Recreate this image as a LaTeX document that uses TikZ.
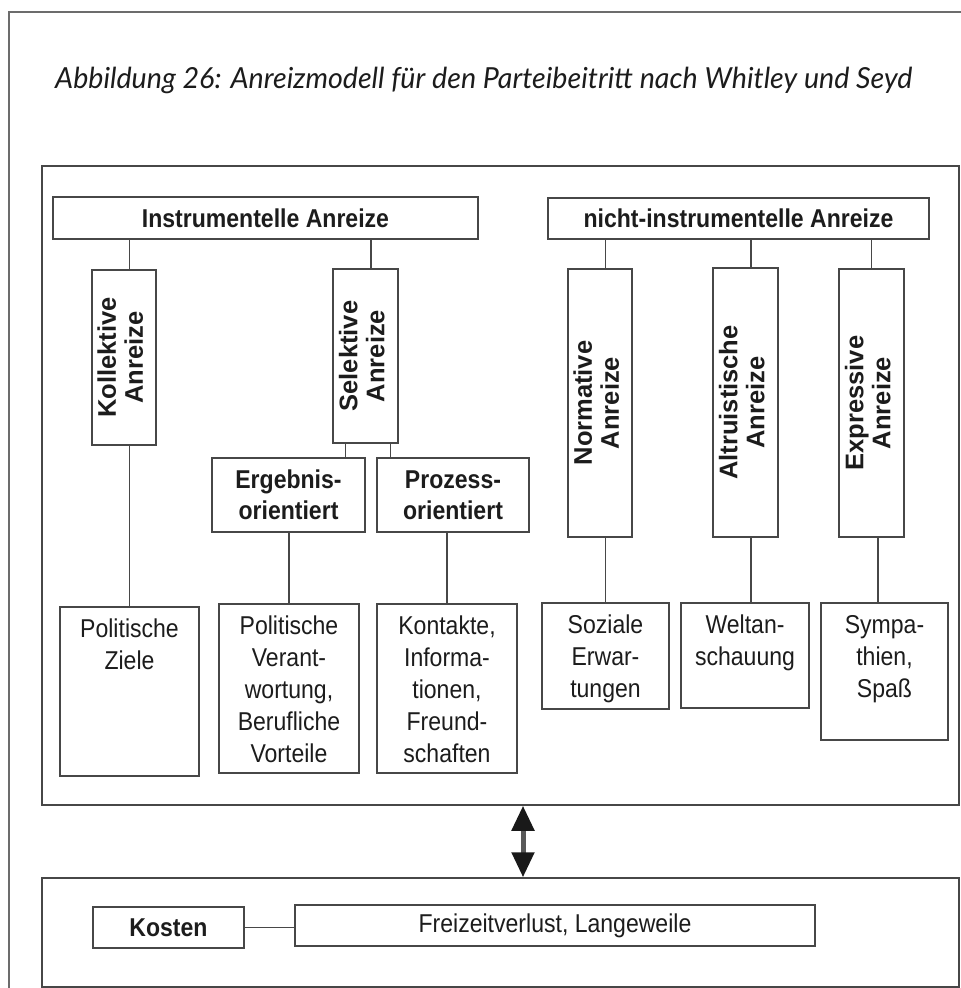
\documentclass[tikz,border=0pt]{standalone}
\usepackage{fontspec}
\setmainfont{Liberation Sans}[FakeStretch=0.893]
\newfontfamily\vfont{Liberation Sans}
\newfontfamily\titlefont{Lato}
\usetikzlibrary{arrows.meta}
\definecolor{ln}{HTML}{474747}
\definecolor{tx}{HTML}{1C1C1C}
\newcommand{\toptext}[3]{\parbox[c][#2][t]{#1}{\centering\rule{0pt}{30pt}#3}}
\newcommand{\vtext}[2]{\rotatebox{90}{\vfont\bfseries\fontsize{25.5}{27}\selectfont\begin{tabular}{@{}c@{}}#1\\#2\end{tabular}}}
\tikzset{
  bx/.style={draw=ln, line width=1.3pt, fill=white, inner sep=0pt, text=tx,
    font=\fontsize{25.8}{32}\selectfont, align=center},
  bbx/.style={bx, font=\bfseries\fontsize{25.8}{31}\selectfont},
  frame/.style={draw=ln, line width=1.5pt, inner sep=0pt},
  pageb/.style={draw=ln!80, line width=1.3pt},
  conn/.style={draw=ln, line width=1.2pt},
  bigarrow/.style={draw=black!65, line width=5pt,
    {Triangle[width=22pt,length=25pt,color=black!90]}-{Triangle[width=22pt,length=25pt,color=black!90]}}
}
\begin{document}
\begin{tikzpicture}[x=1pt,y=-1pt]
\useasboundingbox (0,0) rectangle (961,988);
\fill[white] (0,0) rectangle (961,988);
% page border
\draw[pageb] (961,12) -- (9,12) -- (9,988);
% title
\node[anchor=base west, inner sep=0pt, text=tx] (title) at (55,88)
  {\resizebox{857pt}{\height}{\titlefont\itshape\fontsize{29}{30}\selectfont Abbildung 26: Anreizmodell für den Parteibeitritt nach Whitley und Seyd}};
% frames
\node[frame, minimum width=917pt, minimum height=639pt] (upper) at (500.5,485.5) {};
\node[frame, minimum width=917pt, minimum height=109pt] (lower) at (500.5,932.5) {};
% top level
\node[bbx, minimum width=425pt, minimum height=42pt] (instr) at (265.5,218) {Instrumentelle Anreize};
\node[bbx, minimum width=381pt, minimum height=41pt] (nicht) at (738.5,218.5) {nicht-instrumentelle Anreize};
% vertical boxes
\node[bbx, minimum width=64pt, minimum height=175pt] (koll) at (124,357.5) {\vtext{Kollektive}{Anreize}};
\node[bbx, minimum width=65pt, minimum height=174pt] (sel) at (365.5,356) {\vtext{Selektive}{Anreize}};
\node[bbx, minimum width=64pt, minimum height=268pt] (norm) at (600,403) {\vtext{Normative}{Anreize}};
\node[bbx, minimum width=65pt, minimum height=269pt] (altr) at (745.5,402.5) {\vtext{Altruistische}{Anreize}};
\node[bbx, minimum width=65pt, minimum height=268pt] (expr) at (871.5,403) {\vtext{Expressive}{Anreize}};
% second level
\node[bbx, minimum width=153pt, minimum height=74pt] (erg) at (288.5,495) {Ergebnis-\\orientiert};
\node[bbx, minimum width=152pt, minimum height=74pt] (proz) at (453,495) {Prozess-\\orientiert};
% leaf boxes
\node[bx, minimum width=139pt, minimum height=169pt] (polz) at (129.5,691.5) {\toptext{139pt}{169pt}{Politische\\Ziele}};
\node[bx, minimum width=140pt, minimum height=169pt] (polv) at (289,688.5) {\toptext{140pt}{169pt}{Politische\\Verant-\\wortung,\\Berufliche\\Vorteile}};
\node[bx, minimum width=140pt, minimum height=169pt] (kont) at (447,688.5) {\toptext{140pt}{169pt}{Kontakte,\\Informa-\\tionen,\\Freund-\\schaften}};
\node[bx, minimum width=127pt, minimum height=106pt] (soz) at (605.5,656) {\toptext{127pt}{106pt}{Soziale\\Erwar-\\tungen}};
\node[bx, minimum width=128pt, minimum height=105pt] (welt) at (745,655.5) {\toptext{128pt}{105pt}{Weltan-\\schauung}};
\node[bx, minimum width=127pt, minimum height=137pt] (symp) at (884.5,671.5) {\toptext{127pt}{137pt}{Sympa-\\thien,\\Spaß}};
% costs
\node[bbx, minimum width=151pt, minimum height=41pt] (kosten) at (168.5,927.5) {Kosten};
\node[bx, minimum width=520pt, minimum height=41pt] (frei) at (555,925.5) {Freizeitverlust, Langeweile};
% helper coordinates
\coordinate (sx) at ([xshift=5.5pt]sel.north);
\coordinate (s1) at ([xshift=13pt]sel.south west);
\coordinate (s2) at ([xshift=-8pt]sel.south east);
\coordinate (a1) at ([xshift=5.5pt]altr.north);
\coordinate (e1) at ([xshift=6.5pt]expr.south);
\coordinate (ax) at (523,0);
% connectors
\draw[conn] (polz.north |- instr.south) -- (polz.north |- koll.north);
\draw[conn] (polz.north |- koll.south) -- (polz.north);
\draw[conn] (sx |- instr.south) -- (sx);
\draw[conn] (s1) -- (s1 |- erg.north);
\draw[conn] (s2) -- (s2 |- proz.north);
\draw[conn] (polv.north |- erg.south) -- (polv.north);
\draw[conn] (kont.north |- proz.south) -- (kont.north);
\draw[conn] (soz.north |- nicht.south) -- (soz.north |- norm.north);
\draw[conn] (soz.north |- norm.south) -- (soz.north);
\draw[conn] (a1 |- nicht.south) -- (a1);
\draw[conn] (a1 |- altr.south) -- (a1 |- welt.north);
\draw[conn] (expr.north |- nicht.south) -- (expr.north);
\draw[conn] (e1) -- (e1 |- symp.north);
\draw[conn] (kosten.east) -- (kosten.east -| frei.west);
% double arrow
\draw[bigarrow] (upper.south -| ax) -- (lower.north -| ax);
\end{tikzpicture}
\end{document}
